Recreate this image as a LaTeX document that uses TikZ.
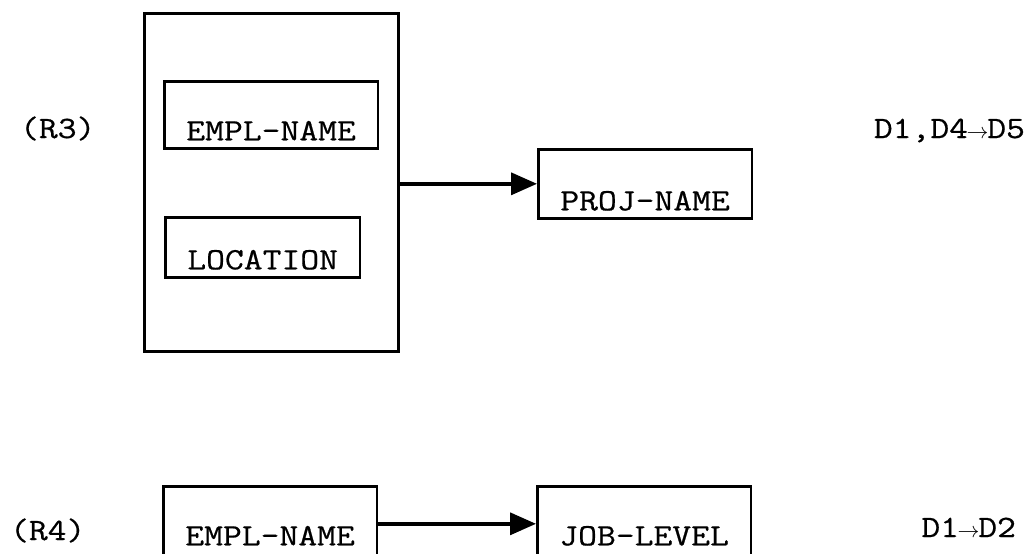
\documentclass[tikz,border=0pt]{standalone}
\usepackage{fontspec}
\setmonofont[FakeStretch=1.18, FakeBold=0.6]{Latin Modern Mono}
\usetikzlibrary{arrows.meta}

\newcommand\darr{\makebox[9.6pt]{$\scriptstyle\rightarrow$}}

\begin{document}
\begin{tikzpicture}[x=0.5pt, y=-0.5pt,
  every node/.style={font=\ttfamily\fontsize{15.5}{18}\selectfont},
  fld/.style={draw, line width=1.3pt, inner xsep=11pt, inner ysep=0pt, text depth=4pt, anchor=north west},
  arr/.style={line width=1.8pt, -{Triangle[length=13pt,width=11pt]}}]
\useasboundingbox (0,0) rectangle (1034,553);

% (R3)
\node[draw, line width=1.3pt, minimum width=127pt, minimum height=169pt, anchor=north west] (r3grp) at (143,12) {};
\node[fld, text height=29.5pt] (empl3) at (163,80) {EMPL-NAME};
\node[fld, text height=26pt] (loc) at (164,216) {LOCATION};
\node[fld, text height=30.5pt] (proj) at (537,148) {PROJ-NAME};
\draw[arr] (r3grp.east |- proj.west) -- (proj.west);

\node[anchor=base west] (r3) at (13,138) {(R3)};
\node[anchor=base east] (d3) at (1032,138) {D1,D4\darr D5};

% (R4)
\node[fld, text height=29.5pt, text depth=8pt] (empl4) at (162,485) {EMPL-NAME};
\node[fld, text height=29.5pt, text depth=8pt] (job) at (536,485) {JOB-LEVEL};
\draw[arr] (empl4.east) -- (job.west);

\node[anchor=base west] (r4) at (3,540) {(R4)};
\node[anchor=base east] (d4) at (1023,537) {D1\darr D2};

\end{tikzpicture}
\end{document}
